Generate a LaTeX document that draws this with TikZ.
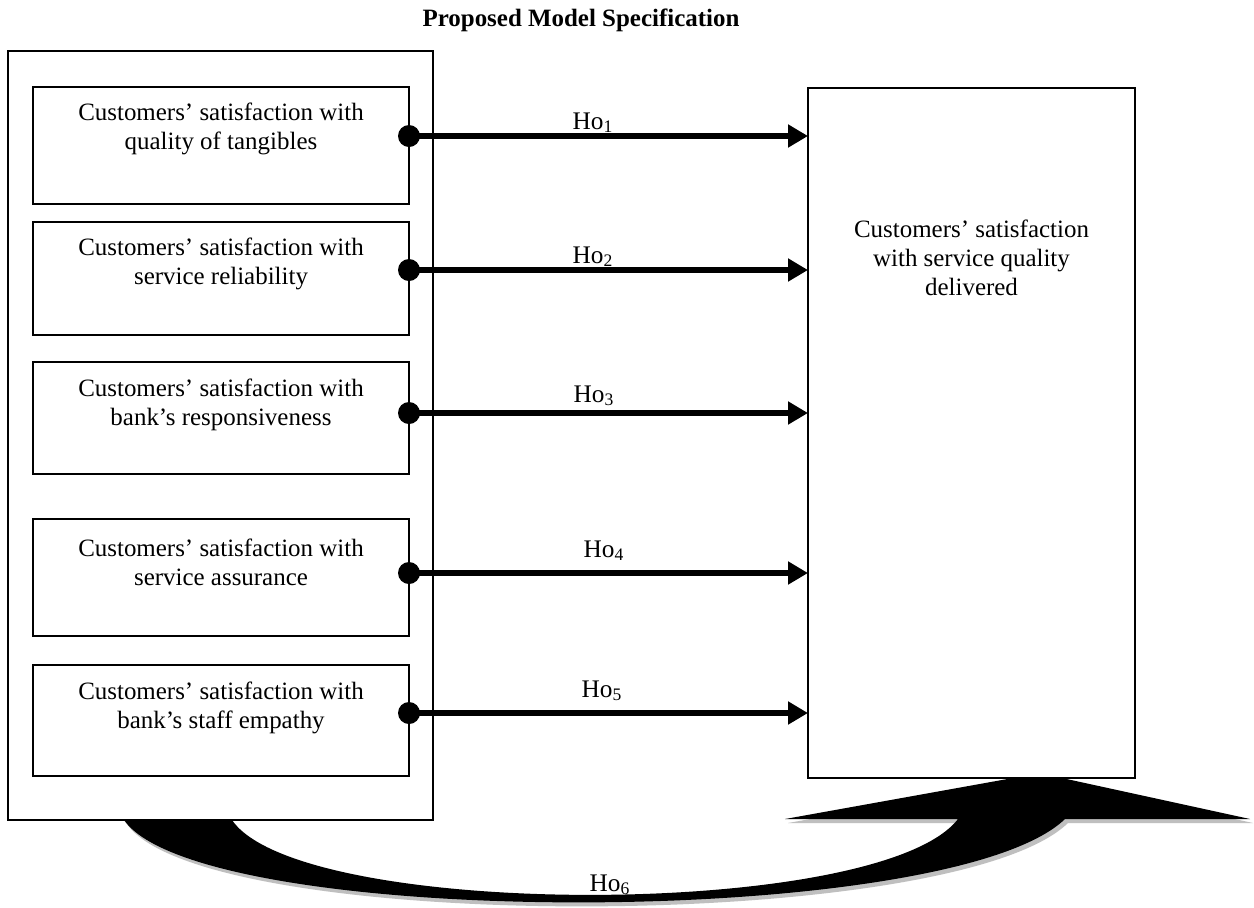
\documentclass[tikz,border=0pt]{standalone}
\usepackage{fontspec}
\setmainfont{Liberation Serif}
\usetikzlibrary{arrows.meta}
\newcommand\hosixpath{(124,820) .. controls (200,930) and (950,930) .. (1065,819) -- (1250,819) -- (1062,778) -- (1013,778) -- (785,819) -- (958,819) .. controls (880,920) and (300,920) .. (232,820) -- cycle}
\begin{document}
\begin{tikzpicture}[x=0.02cm,y=-0.02cm,
  box/.style={draw, line width=0.7pt, inner sep=0pt, outer sep=0pt, anchor=north west},
  boxtext/.style={font=\fontsize{14.2}{16.5}\selectfont, align=center, anchor=north, inner sep=0pt},
  hyp/.style={font=\fontsize{14.4}{16.5}\selectfont, anchor=base, inner sep=0pt},
  link/.style={line width=3.4pt, -{Triangle[length=0.4cm,width=0.44cm]}},
  dotc/.style={fill=black}]
\path[use as bounding box, fill=white] (0,0) rectangle (1254,907);

% title
\node[anchor=north, inner sep=0pt, font=\fontsize{14.2}{16.5}\selectfont\bfseries] (title) at (581,9) {Proposed Model Specification};

% shadowed curved arrow Ho6
\fill[black!25, shift={(3,4)}] \hosixpath;
\fill[black] \hosixpath;

% outer left frame
\node[box, minimum width=425*0.02cm, minimum height=769*0.02cm] (L) at (8,51) {};
% right box
\node[box, minimum width=327*0.02cm, minimum height=690*0.02cm] (R) at (808,88) {};

% inner boxes
\node[box, minimum width=376*0.02cm, minimum height=117*0.02cm] (b1) at (33,87) {};
\node[box, minimum width=376*0.02cm, minimum height=113*0.02cm] (b2) at (33,222) {};
\node[box, minimum width=376*0.02cm, minimum height=112*0.02cm] (b3) at (33,362) {};
\node[box, minimum width=376*0.02cm, minimum height=117*0.02cm] (b4) at (33,519) {};
\node[box, minimum width=376*0.02cm, minimum height=111*0.02cm] (b5) at (33,665) {};

\node[boxtext] (t1) at ([yshift=-16*0.02cm]b1.north) {Customers’ satisfaction with\\quality of tangibles};
\node[boxtext] (t2) at ([yshift=-16*0.02cm]b2.north) {Customers’ satisfaction with\\service reliability};
\node[boxtext] (t3) at ([yshift=-17*0.02cm]b3.north) {Customers’ satisfaction with\\bank’s responsiveness};
\node[boxtext] (t4) at ([yshift=-20*0.02cm]b4.north) {Customers’ satisfaction with\\service assurance};
\node[boxtext] (t5) at ([yshift=-17*0.02cm]b5.north) {Customers’ satisfaction with\\bank’s staff empathy};

\node[boxtext] (tR) at (971.5,220) {Customers’ satisfaction\\with service quality\\delivered};

% connection points
\coordinate (d1) at (b1.east |- 0,136);
\coordinate (d2) at (b2.east |- 0,270);
\coordinate (d3) at (b3.east |- 0,413);
\coordinate (d4) at (b4.east |- 0,573);
\coordinate (d5) at (b5.east |- 0,713);

\foreach \i in {1,...,5}{
  \draw[link] (d\i) -- (d\i -| R.west);
  \fill[dotc] (d\i) circle[radius=11*0.02cm];
}

% hypothesis labels
\node[hyp] (h1) at (593,129) {Ho\textsubscript{1}};
\node[hyp] (h2) at (593,263) {Ho\textsubscript{2}};
\node[hyp] (h3) at (594,402) {Ho\textsubscript{3}};
\node[hyp] (h4) at (604,557) {Ho\textsubscript{4}};
\node[hyp] (h5) at (602,697) {Ho\textsubscript{5}};
\node[hyp] (h6) at (610,891) {Ho\textsubscript{6}};
\end{tikzpicture}
\end{document}
